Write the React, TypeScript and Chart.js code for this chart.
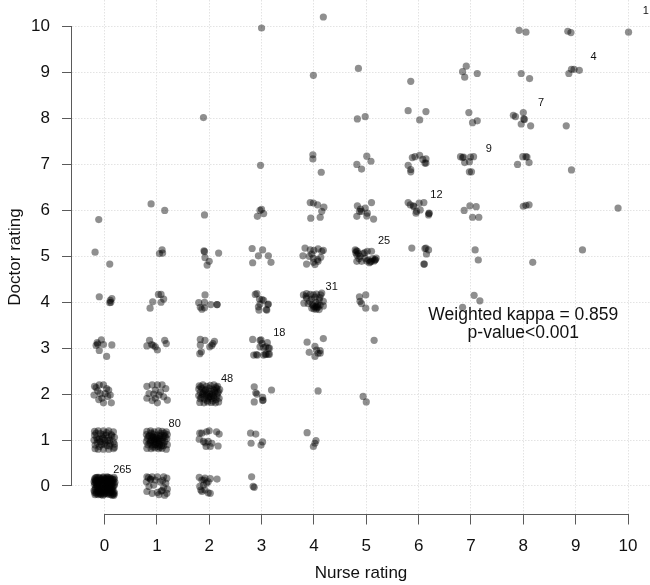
import React, { useEffect, useRef } from "react";
import { Chart, registerables } from "chart.js";

Chart.register(...registerables);

type P = [number, number];

// Jittered (nurse rating, doctor rating) pairs, grouped by nurse rating
const nurse0: P[] = [
  [-0.18,0.17],[-0.11,0.19],[-0.03,0.18],[0.05,0.2],[0.12,0.16],[0.18,0.19],
  [-0.16,0.1],[-0.08,0.12],[0.01,0.09],[0.09,0.11],[0.16,0.08],[-0.19,0.03],
  [-0.12,0.05],[-0.04,0.02],[0.04,0.04],[0.13,0.01],[0.19,0.03],[-0.17,-0.04],
  [-0.09,-0.02],[0.0,-0.05],[0.07,-0.03],[0.15,-0.06],[-0.2,-0.1],[-0.13,-0.12],
  [-0.05,-0.09],[0.03,-0.11],[0.1,-0.09],[0.18,-0.12],[-0.16,-0.17],[-0.07,-0.19],
  [0.01,-0.16],[0.08,-0.18],[0.15,-0.2],[-0.19,0.14],[0.19,-0.16],[-0.14,0.19],
  [-0.06,0.15],[0.02,0.14],[0.1,0.18],[0.17,0.13],[-0.18,0.07],[-0.1,0.08],
  [-0.02,0.06],[0.06,0.07],[0.14,0.05],[-0.15,-0.01],[-0.07,0.0],[0.02,0.01],
  [0.1,-0.01],[0.18,0.0],[-0.18,-0.07],[-0.1,-0.06],[-0.02,-0.08],[0.06,-0.07],
  [0.14,-0.1],[-0.15,-0.14],[-0.08,-0.13],[0.0,-0.13],[0.07,-0.14],[0.16,-0.15],
  [-0.12,-0.19],[-0.03,-0.2],[0.05,-0.17],[0.12,-0.19],[-0.02,0.2],[0.12,0.1],
  [-0.13,0.13],[0.08,0.15],[-0.05,-0.15],[0.11,-0.05],[-0.09,0.03],[0.04,-0.02],
  [-0.17,0.12],[-0.09,0.17],[0.0,0.16],[0.07,0.19],[0.15,0.15],[-0.19,-0.14],[-0.11,-0.16],[-0.01,-0.18],
  [0.09,-0.15],[0.17,-0.18],[-0.14,0.02],[-0.06,0.04],[0.03,0.06],[0.11,0.03],[0.2,0.08],[-0.2,0.09],
  [-0.12,-0.08],[-0.04,-0.05],[0.05,-0.09],[0.13,-0.07],[-0.16,0.18],[0.19,0.15],[-0.08,0.1],[0.0,0.12],
  [0.08,0.09],[-0.18,-0.19],[0.18,-0.2],[-0.1,-0.11],[0.02,-0.03],[0.12,-0.13],[-0.15,0.06],[0.16,-0.02],
  [-0.04,0.13],[0.06,0.02],[-0.07,-0.17],[0.1,0.14],[-0.13,-0.03],[0.14,0.11],[-0.01,-0.11],[0.04,0.17],
  [-0.19,1.19],[-0.12,1.2],[-0.02,1.2],[0.08,1.2],[0.17,1.18],[-0.19,1.11],[-0.08,1.14],[0.03,1.11],
  [0.14,1.09],[0.19,1.06],[-0.2,1.0],[-0.13,1.01],[-0.03,1.04],[0.06,0.99],[0.17,0.96],[0.19,0.91],
  [-0.18,0.89],[-0.1,0.86],[-0.01,0.91],[0.1,0.87],[0.19,0.84],[-0.18,0.81],[-0.12,0.8],[-0.02,0.8],
  [0.08,0.8],[0.17,0.81],[-0.08,0.96],[0.01,0.94],[-0.05,1.07],[0.11,0.93],[0.04,1.16],[-0.15,1.05],
  [-0.1,1.02],[0.0,1.0],[0.08,1.06],[-0.06,0.9],[0.05,0.88],[-0.14,0.94],[0.13,1.12],[-0.02,1.12],
  [0.1,1.0],[-0.16,1.15],
  [-0.19,2.17],[-0.1,2.2],[-0.02,2.2],[0.04,2.12],[-0.13,2.07],[-0.08,2.01],[0.01,2.01],[0.11,1.98],
  [-0.2,1.98],[-0.05,1.91],[-0.02,1.81],[0.13,1.81],[0.08,2.09],[-0.16,2.14],[0.06,1.95],[-0.11,1.88],
  [-0.14,3.12],[-0.06,3.18],[-0.16,3.06],[-0.02,3.08],[0.14,3.07],[-0.1,2.95],[0.04,2.82],[-0.13,3.09],
  [-0.1,4.12],[0.11,4.04],[0.14,4.08],[0.1,3.99],[0.12,4.0],
  [-0.18,5.09],[0.1,4.83],
  [-0.11,5.8],
];

const nurse1: P[] = [
  [0.81,0.2],[0.91,0.2],[1.01,0.2],[1.13,0.2],[1.19,0.17],[0.8,0.09],[0.88,0.14],[0.97,0.13],
  [1.06,0.09],[1.17,0.06],[0.85,-0.01],[0.94,0.02],[1.13,-0.03],[1.2,-0.07],[0.81,-0.12],[0.91,-0.16],
  [1.01,-0.14],[1.1,-0.1],[1.15,-0.2],[1.19,-0.16],[1.04,-0.19],[0.88,0.15],[1.08,-0.11],[0.84,0.18],[1.11,0.12],
  [0.81,1.19],[0.88,1.2],[0.95,1.18],[1.03,1.2],[1.1,1.19],[1.18,1.18],
  [0.8,1.12],[0.86,1.1],[0.93,1.13],[1.0,1.11],[1.07,1.14],[1.14,1.1],[1.2,1.12],
  [0.82,1.04],[0.9,1.05],[0.97,1.06],[1.04,1.03],[1.12,1.05],[1.19,1.03],
  [0.8,0.97],[0.87,0.98],[0.94,0.96],[1.01,0.99],[1.08,0.97],[1.15,0.96],
  [0.83,0.9],[0.91,0.89],[0.98,0.91],[1.05,0.9],[1.13,0.88],[1.2,0.9],
  [0.81,0.82],[0.89,0.81],[0.96,0.83],[1.03,0.81],[1.1,0.82],[1.18,0.8],
  [0.92,1.08],[1.06,1.07],[0.99,0.94],[0.86,0.93],[1.12,0.93],[0.95,1.0],[1.02,0.86],[0.89,1.15],[1.16,1.07],
  [0.9,1.0],[0.97,1.02],[1.04,0.98],[1.1,1.01],[0.93,1.06],[1.0,1.05],[1.07,1.1],[0.88,0.95],
  [0.96,0.9],[1.03,0.94],[1.09,0.88],[0.84,1.08],[1.14,1.15],[0.92,0.85],[1.06,0.84],
  [0.81,2.17],[0.91,2.2],[1.01,2.2],[1.1,2.2],[1.17,2.12],[0.97,2.09],[1.07,2.05],[0.85,2.01],
  [0.94,2.0],[1.04,1.98],[1.13,1.94],[0.81,1.91],[0.91,1.86],[1.01,1.81],[1.2,1.87],[0.97,1.91],
  [0.86,3.17],[0.81,3.05],[0.9,3.08],[0.97,3.03],[1.01,2.96],[1.15,3.17],[1.18,3.1],[0.93,3.06],
  [0.92,4.01],[0.87,3.87],[1.03,4.17],[1.08,4.17],[1.13,4.07],[1.08,4.0],
  [1.1,5.14],[1.05,5.06],[1.11,5.07],
  [0.89,6.14],[1.15,6.0],
];

const nurse2: P[] = [
  [1.86,0.13],[1.92,0.17],[2.02,0.16],[2.15,0.15],[1.89,0.02],[1.95,0.06],[1.84,-0.09],[1.92,-0.09],
  [1.98,-0.15],[2.02,-0.16],[1.81,0.19],[1.9,0.13],[1.82,-0.01],[1.86,-0.12],[1.98,0.09],
  [1.86,1.15],[1.95,1.18],[2.0,1.2],[2.14,1.18],[2.19,1.13],[1.98,0.97],[2.05,0.93],[2.02,0.86],
  [2.17,0.87],[1.92,0.94],[1.82,1.15],[1.81,1.02],[1.89,0.97],[1.94,0.86],
  [1.81,2.18],[1.88,2.2],[1.95,2.17],[2.02,2.19],[2.09,2.2],[2.16,2.17],
  [1.8,2.11],[1.86,2.12],[1.93,2.1],[2.0,2.13],[2.07,2.11],[2.14,2.12],[2.2,2.1],
  [1.83,2.04],[1.9,2.05],[1.97,2.03],[2.04,2.06],[2.11,2.04],[2.18,2.05],
  [1.8,1.97],[1.87,1.98],[1.94,1.96],[2.01,1.99],[2.08,1.97],[2.15,1.96],
  [1.83,1.9],[1.91,1.89],[1.98,1.91],[2.05,1.9],[2.13,1.88],[2.19,1.91],
  [1.82,1.82],[1.9,1.81],[1.97,1.83],[2.04,1.82],[2.12,1.81],[2.18,1.83],
  [1.92,2.08],[2.06,2.0],[1.99,1.94],[2.16,2.02],
  [1.88,2.02],[1.95,2.0],[2.02,1.95],[2.09,1.93],[1.85,1.93],[2.1,2.08],[1.96,1.86],[2.07,1.85],
  [1.84,2.16],[2.13,2.15],
  [1.83,3.19],[1.92,3.17],[1.83,3.07],[1.82,2.88],[1.85,2.92],[2.01,3.03],[2.05,3.06],[2.1,3.15],[2.07,3.1],
  [1.92,4.16],[1.8,3.99],[1.91,4.0],[2.03,3.95],[2.15,3.95],[2.15,3.95],[1.86,3.85],[1.83,3.89],[1.91,3.88],
  [1.9,5.12],[1.92,4.97],[2.0,4.89],[1.96,4.81],[2.18,5.07],[1.91,5.1],
  [1.91,5.9],
  [1.89,8.02],
];

const nurse3: P[] = [
  [2.81,0.2],[2.84,-0.01],[2.86,-0.03],
  [2.79,1.15],[2.89,1.13],[2.8,0.93],[2.99,0.89],[3.02,0.96],
  [2.86,2.16],[2.89,2.03],[2.91,2.0],[3.02,1.93],[3.02,1.86],[3.03,1.87],[2.86,1.83],[3.19,2.09],
  [2.83,3.19],[2.97,3.17],[2.97,3.03],[3.04,3.01],[3.13,3.0],[2.85,2.85],[2.92,2.85],[3.04,2.85],
  [3.09,2.87],[3.15,2.87],[3.01,3.1],[2.99,3.18],[3.08,3.03],[3.15,3.0],[3.07,2.87],[3.13,2.87],[2.9,2.86],[3.11,3.12],
  [2.88,4.17],[2.91,4.19],[2.96,4.07],[3.01,4.06],[3.04,4.04],[2.94,3.9],[3.13,3.96],[3.09,3.84],
  [2.97,3.96],[2.95,3.83],[3.1,3.83],[3.12,3.95],
  [2.82,5.17],[3.02,5.14],[2.94,5.01],[3.13,5.01],[2.83,4.86],[3.18,4.87],
  [2.97,6.0],[3.04,5.93],[2.92,5.87],[3.0,6.02],
  [2.98,6.98],
  [3.0,9.97],
];

const nurse4: P[] = [
  [3.87,1.16],[4.04,0.99],[4.02,0.93],[3.99,0.86],
  [4.08,2.07],
  [3.87,3.13],[4.02,3.04],[4.05,2.96],[4.12,2.95],[4.08,2.89],[3.91,2.91],[4.02,2.82],[4.18,3.21],[4.12,2.89],
  [3.8,4.16],[3.86,4.19],[3.93,4.17],[3.99,4.16],[4.05,4.18],[4.13,4.16],[3.86,4.09],[3.96,4.07],
  [4.02,4.11],[4.1,4.05],[4.18,4.02],[3.81,3.98],[3.89,3.97],[3.99,3.92],[4.05,3.91],[4.12,3.94],
  [4.18,3.92],[3.96,3.87],[4.04,3.85],[4.1,3.84],[4.02,3.9],[4.06,3.88],[4.0,3.86],[4.08,3.9],
  [4.15,4.2],[3.92,4.02],[4.04,4.0],[4.07,3.95],[3.85,4.13],[4.11,4.1],[3.97,3.95],
  [3.83,5.18],[3.93,5.14],[4.0,5.13],[4.08,5.16],[4.15,5.11],[3.79,5.01],[3.91,5.0],[3.99,4.96],
  [4.07,4.93],[4.13,4.98],[3.99,4.87],[3.86,4.83],[4.02,4.82],[4.08,4.89],[3.96,5.05],[4.18,5.13],
  [3.93,6.17],[3.99,6.16],[4.07,6.12],[4.19,6.07],[4.15,5.98],[4.12,5.85],[3.94,5.83],
  [3.98,7.21],[3.98,7.12],[4.14,6.83],
  [3.99,8.94],
  [4.18,10.21],
];

const nurse5: P[] = [
  [4.94,1.95],[5.0,1.83],
  [5.15,3.17],
  [4.87,4.12],[4.99,4.16],[4.88,4.02],[4.91,3.97],[4.99,3.87],[5.17,3.87],
  [4.79,5.14],[4.83,5.11],[4.82,5.03],[4.88,5.0],[4.94,5.06],[5.02,5.11],[5.1,5.11],[5.04,4.92],
  [5.1,4.89],[5.17,4.92],[5.19,4.96],[4.91,4.89],[4.82,4.89],[4.98,4.96],[5.06,4.86],[4.81,5.12],
  [5.17,4.93],[5.08,4.88],[4.8,5.08],[4.85,5.06],[5.15,4.9],[4.97,5.08],[5.12,4.95],[4.86,4.95],[5.01,4.9],
  [4.83,6.1],[4.89,6.03],[4.87,5.98],[4.98,6.05],[5.1,6.17],[5.02,5.94],[4.82,5.87],[5.01,5.88],[5.14,5.81],[4.91,5.98],
  [4.82,7.0],[4.91,6.9],[5.01,7.18],[5.09,7.07],
  [4.83,7.99],[4.98,8.04],
  [4.85,9.09],
];

const nurse6: P[] = [
  [5.87,5.18],[6.12,5.17],[6.19,5.14],[6.15,5.05],[6.11,4.83],[6.1,4.83],[6.14,5.18],
  [5.8,6.17],[5.84,6.12],[5.91,6.08],[5.96,5.98],[6.01,6.16],[6.1,6.17],[5.95,5.94],[6.2,5.94],
  [6.19,5.9],[6.03,6.01],[6.2,5.93],[5.9,6.1],
  [5.8,6.98],[5.85,6.89],[5.85,6.84],[5.88,7.15],[5.93,7.17],[6.02,7.2],[6.08,7.11],[6.14,7.12],[6.14,7.03],[6.12,7.03],
  [5.8,8.17],[6.14,8.15],[6.02,7.97],
  [5.85,8.81],
];

const nurse7: P[] = [
  [7.06,4.15],[7.17,4.03],[6.84,3.89],
  [7.08,5.14],[7.14,4.92],
  [6.87,6.0],[6.98,6.1],[7.1,6.08],[7.03,5.85],[7.15,5.85],
  [6.8,7.17],[6.84,7.15],[6.88,7.04],[6.97,7.06],[6.99,7.16],[7.05,7.17],[6.97,6.84],[7.01,6.84],[6.86,7.16],
  [6.96,8.13],[7.03,7.91],[7.12,7.95],
  [6.91,9.14],[6.84,9.02],[6.88,8.9],[7.12,8.98],
];

const nurse8: P[] = [
  [8.18,4.87],
  [8.0,6.09],[8.05,6.11],[8.11,6.12],
  [7.89,7.0],[7.99,7.17],[8.05,7.17],[8.07,7.16],[8.11,7.04],
  [7.81,8.07],[7.85,8.04],[8.0,8.13],[8.01,7.99],[8.02,7.98],[7.96,7.88],[8.14,7.84],
  [7.96,8.98],[8.12,8.87],
  [7.92,9.92],[8.05,9.88],
];

const nurse9: P[] = [
  [9.13,5.14],
  [8.92,6.88],
  [8.82,7.84],
  [8.87,8.98],[8.92,9.07],[8.97,9.07],[9.07,9.05],
  [8.85,9.9],[8.91,9.87],
];

const nurse10: P[] = [
  [9.81,6.05],
  [10.01,9.88],
];

const nurseColumns: P[][] = [nurse0, nurse1, nurse2, nurse3, nurse4, nurse5, nurse6, nurse7, nurse8, nurse9, nurse10];

// Agreement counts on the diagonal
const diagonalRatings = [0, 1, 2, 3, 4, 5, 6, 7, 8, 9, 10];
const diagonalCounts = [265, 80, 48, 18, 31, 25, 12, 9, 7, 4, 1];

const tickValues = [0, 1, 2, 3, 4, 5, 6, 7, 8, 9, 10];
const kappaLines = ["Weighted kappa = 0.859", "p-value<0.001"];

const FONT = "'Liberation Sans', Arial, Helvetica, sans-serif";
const AXIS_COLOR = "#5a5a5a";
const TEXT_COLOR = "#111111";
const GRID_COLOR = "#e3e3e3";

const overlayPlugin = {
  id: "overlay",
  afterDatasetsDraw(chart: any) {
    const { ctx, chartArea } = chart;
    const xs = chart.scales.x;
    const ys = chart.scales.y;
    ctx.save();
    // R-style axis lines spanning the tick range only
    ctx.strokeStyle = AXIS_COLOR;
    ctx.lineWidth = 1;
    ctx.setLineDash([]);
    ctx.beginPath();
    const yb = chartArea.bottom + 0.5;
    ctx.moveTo(xs.getPixelForValue(tickValues[0]), yb);
    ctx.lineTo(xs.getPixelForValue(tickValues[tickValues.length - 1]), yb);
    const xl = chartArea.left - 0.5;
    ctx.moveTo(xl, ys.getPixelForValue(tickValues[0]));
    ctx.lineTo(xl, ys.getPixelForValue(tickValues[tickValues.length - 1]));
    ctx.stroke();

    // counts
    ctx.fillStyle = TEXT_COLOR;
    ctx.textAlign = "center";
    ctx.textBaseline = "middle";
    ctx.font = `11px ${FONT}`;
    diagonalRatings.forEach((r, i) => {
      ctx.fillText(String(diagonalCounts[i]), xs.getPixelForValue(r + 0.34), ys.getPixelForValue(r + 0.34));
    });

    // kappa annotation
    ctx.font = `17.5px ${FONT}`;
    const kx = xs.getPixelForValue(8);
    const ky = ys.getPixelForValue(3.71);
    kappaLines.forEach((t, i) => ctx.fillText(t, kx, ky + i * 18));
    ctx.restore();
  },
};

export default function App() {
  const ref = useRef<HTMLCanvasElement | null>(null);

  useEffect(() => {
    if (!ref.current) return;
    const datasets = nurseColumns.map((col, i) => ({
      label: `Nurse ${i}`,
      data: col.map(([x, y]) => ({ x, y })),
      backgroundColor: "rgba(0,0,0,0.44)",
      borderWidth: 0,
      pointRadius: 3.6,
      pointHoverRadius: 3.6,
      clip: false as any,
    }));

    const gridOpts = {
      color: GRID_COLOR,
      lineWidth: 1,
      tickColor: AXIS_COLOR,
      tickWidth: 1,
      drawTicks: true,
    };
    const borderOpts = { display: false, dash: [1.5, 1.5] };

    const chart = new Chart(ref.current, {
      type: "scatter",
      data: { datasets },
      options: {
        animation: false,
        responsive: false,
        events: [],
        layout: { padding: 0, autoPadding: false } as any,
        plugins: {
          legend: { display: false },
          tooltip: { enabled: false },
        },
        scales: {
          x: {
            type: "linear",
            min: -0.621,
            max: 10.42,
            afterBuildTicks: (axis: any) => {
              axis.ticks = tickValues.map((v) => ({ value: v }));
            },
            afterFit: (axis: any) => {
              axis.height = 71;
              axis.paddingLeft = 0;
              axis.paddingRight = 0;
            },
            ticks: {
              font: { family: FONT, size: 17 },
              color: TEXT_COLOR,
              padding: 11.5,
              maxRotation: 0,
              autoSkip: false,
              includeBounds: false,
            },
            grid: { ...gridOpts, tickLength: 10.5 } as any,
            border: borderOpts as any,
            title: {
              display: true,
              text: "Nurse rating",
              font: { family: FONT, size: 17 },
              color: TEXT_COLOR,
              padding: { top: 0, bottom: 1.3 },
            },
          },
          y: {
            type: "linear",
            min: -0.61,
            max: 10.58,
            afterBuildTicks: (axis: any) => {
              axis.ticks = tickValues.map((v) => ({ value: v }));
            },
            afterFit: (axis: any) => {
              axis.width = 72;
              axis.paddingTop = 0;
              axis.paddingBottom = 0;
            },
            ticks: {
              font: { family: FONT, size: 17 },
              color: TEXT_COLOR,
              padding: 12,
              autoSkip: false,
              includeBounds: false,
            },
            grid: { ...gridOpts, tickLength: 10 } as any,
            border: borderOpts as any,
            title: {
              display: true,
              text: "Doctor rating",
              font: { family: FONT, size: 17 },
              color: TEXT_COLOR,
              padding: { top: 5, bottom: 0 },
            },
          },
        },
      },
      plugins: [overlayPlugin],
    });
    return () => chart.destroy();
  }, []);

  return (
    <div style={{ position: "absolute", left: 0, top: 0, width: 650, height: 585, background: "#fff" }}>
      <canvas ref={ref} width={650} height={585} style={{ display: "block", width: 650, height: 585 }} />
    </div>
  );
}
